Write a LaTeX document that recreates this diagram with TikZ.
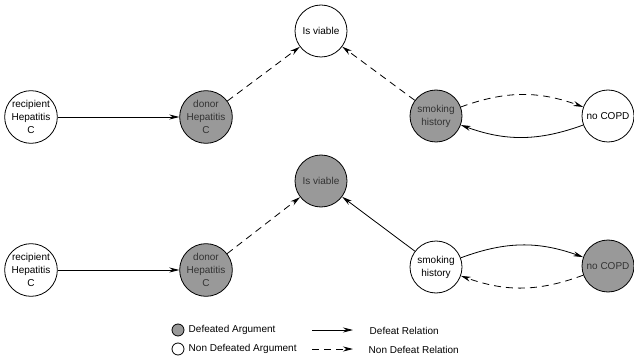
\documentclass[tikz,border=0pt]{standalone}
\usepackage{fontspec}
\setmainfont{Liberation Sans}
\usetikzlibrary{arrows.meta}
\begin{document}
\begin{tikzpicture}[x=1pt, y=-1pt, >={Stealth[length=10pt, width=5pt]}, line width=0.8pt,
        arg/.style={draw, circle, minimum size=52pt, inner sep=0.5pt, align=center, font=\fontsize{10}{13}\selectfont},
        defeated/.style={arg, fill=black!40, text=black!80},
        dashes/.style={dash pattern=on 7pt off 5pt},
        legtext/.style={anchor=west, font=\fontsize{10}{12}\selectfont}]
                \useasboundingbox (0, 0) rectangle (634, 358);
                % Nodes (first case)
                \node[arg] at (31, 117) (rec1) {recipient\\Hepatitis\\C};
                \node[defeated] at (206, 117) (don1) {donor\\Hepatitis\\C};
                \node[arg] at (321, 31) (via1) {Is viable};
                \node[defeated] at (436, 116) (smk1) {smoking\\history};
                \node[arg] at (608, 116) (cop1) {no COPD};

                % Nodes (second case)
                \node[arg] at (31, 270) (rec2) {recipient\\Hepatitis\\C};
                \node[defeated] at (206, 270) (don2) {donor\\Hepatitis\\C};
                \node[defeated] at (321, 181) (via2) {Is viable};
                \node[arg] at (436, 267) (smk2) {smoking\\history};
                \node[defeated] at (608, 266) (cop2) {no COPD};

                % Edges (first case)
                \draw[->] (rec1) -- (don1);
                \draw[->, dashes] (don1) -- (via1);
                \draw[->, dashes] (smk1) -- (via1);
                \draw[->, dashes] (smk1) to[bend left=20] (cop1);
                \draw[->] (cop1) to[bend left=20] (smk1);

                % Edges (second case)
                \draw[->] (rec2) -- (don2);
                \draw[->, dashes] (don2) -- (via2);
                \draw[->] (smk2) -- (via2);
                \draw[->] (smk2) to[bend left=20] (cop2);
                \draw[->, dashes] (cop2) to[bend left=20] (smk2);

                % Legend
                \node[draw, circle, fill=black!40, minimum size=12pt, inner sep=0pt] at (178, 330) (ldef) {};
                \node[draw, circle, minimum size=12pt, inner sep=0pt] at (178, 349) (lnon) {};
                \node[legtext] at (185, 330) (tdef) {Defeated Argument};
                \node[legtext] at (185, 349) (tnon) {Non Defeated Argument};
                \coordinate (a1) at (312, 330);
                \coordinate (b1) at (353, 330);
                \coordinate (a2) at (312, 349);
                \coordinate (b2) at (353, 349);
                \draw[->] (a1) -- (b1);
                \draw[->, dashes] (a2) -- (b2);
                \node[legtext] at (366, 331) (trel) {Defeat Relation};
                \node[legtext] at (365, 350) (tnrel) {Non Defeat Relation};
            \end{tikzpicture}
\end{document}
